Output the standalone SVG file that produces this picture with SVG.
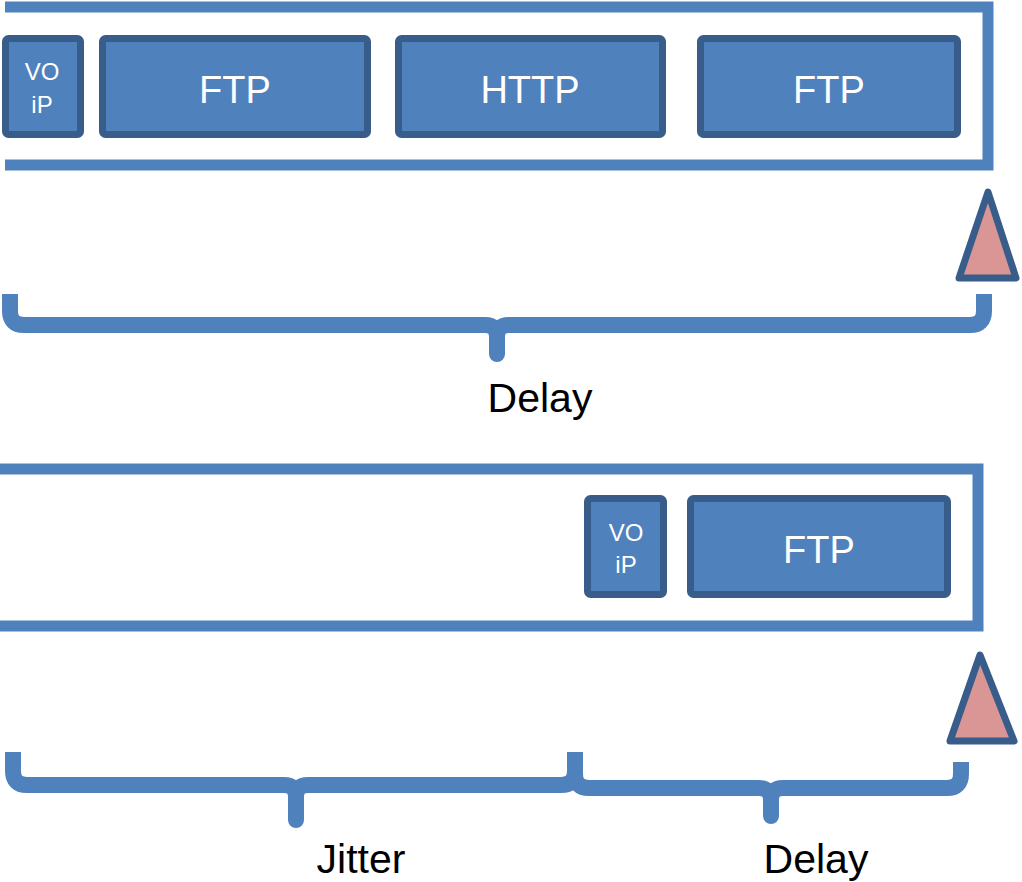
<svg xmlns="http://www.w3.org/2000/svg" width="1022" height="882" viewBox="0 0 1022 882">
<style>
.bar{fill:none;stroke:#4F81BD;stroke-width:11;stroke-linejoin:miter}
.box{fill:#4F81BD;stroke:#385D8A;stroke-width:7}
.tri{fill:#D99694;stroke:#385D8A;stroke-width:7;stroke-linejoin:round}
.brace{fill:none;stroke:#4F81BD;stroke-width:16;stroke-linecap:butt;stroke-linejoin:round}
.stem{fill:none;stroke:#4F81BD;stroke-width:16;stroke-linecap:round}
.lbl{fill:#FFFFFF;font-family:"Liberation Sans",Arial,sans-serif;text-anchor:middle}
.cap{fill:#000000;font-family:"Liberation Sans",Arial,sans-serif;font-size:41px;text-anchor:middle}
</style>
<rect width="1022" height="882" fill="#FFFFFF"/>
<g id="bar1"><path class="bar" d="M5,7 H988 V165 H5"/></g>
<g id="voip1"><rect class="box" x="5.5" y="38.5" width="75" height="96" rx="3"/><text class="lbl" x="42" y="80" font-size="24">VO</text><text class="lbl" x="42" y="113" font-size="24">iP</text></g>
<g id="ftp1"><rect class="box" x="102.5" y="38.5" width="265" height="96" rx="3"/><text class="lbl" x="235" y="103" font-size="38">FTP</text></g>
<g id="http1"><rect class="box" x="398.5" y="38.5" width="264" height="96" rx="3"/><text class="lbl" x="530" y="103" font-size="38">HTTP</text></g>
<g id="ftp2"><rect class="box" x="700.5" y="38.5" width="257" height="96" rx="3"/><text class="lbl" x="829" y="103" font-size="38">FTP</text></g>
<g id="tri1"><polygon class="tri" points="988,192 1016,278 959,278"/></g>
<g id="bar2"><path class="bar" d="M0,469 H978 V626 H0"/></g>
<g id="voip2"><rect class="box" x="587.5" y="498.5" width="76" height="96" rx="3"/><text class="lbl" x="626" y="541" font-size="24">VO</text><text class="lbl" x="626" y="573" font-size="24">iP</text></g>
<g id="ftp3"><rect class="box" x="690.5" y="498.5" width="257" height="96" rx="3"/><text class="lbl" x="819" y="563" font-size="38">FTP</text></g>
<g id="tri2"><polygon class="tri" points="980,655 1014,741 950,741"/></g>
<g id="connectors">
<path class="brace" d="M10,294 V311 Q10,325 24,325 H485 Q497,325 497,337 Q497,325 509,325 H970 Q984,325 984,311 V294"/>
<path class="stem" d="M497,330 V354"/>
<path class="brace" d="M13,752 V771 Q13,785 27,785 H284 Q296,785 296,797 Q296,785 308,785 H561 Q575,785 575,771 V752"/>
<path class="stem" d="M296,790 V820"/>
<path class="brace" d="M575,752 V774 Q575,788 589,788 H759 Q771,788 771,800 Q771,788 783,788 H947 Q961,788 961,774 V762"/>
<path class="stem" d="M771,793 V816"/>
</g>
<g id="labels">
<text class="cap" x="540" y="412">Delay</text>
<text class="cap" x="361" y="873">Jitter</text>
<text class="cap" x="816" y="873">Delay</text>
</g>
</svg>
